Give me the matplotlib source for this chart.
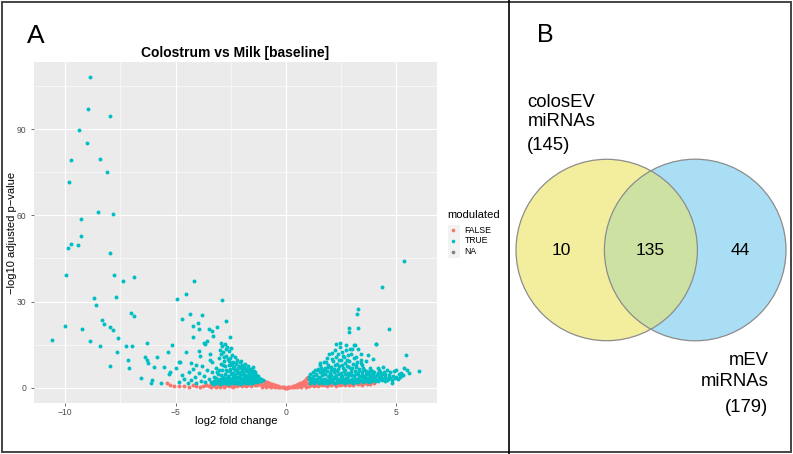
import matplotlib
matplotlib.use("Agg")
import matplotlib.pyplot as plt
from matplotlib.patches import Circle, Rectangle
from matplotlib.lines import Line2D

plt.rcParams["font.family"] = ["Liberation Sans", "DejaVu Sans"]

W, H = 793, 454

# ---- volcano data (log2 fold change, -log10 adjusted p-value) ----
false_x = [
    # centre V
    -1.20, -1.15, -1.10, -1.05, -1.00, -0.95, -0.90, -0.85, -0.80, -0.75, -0.70, -0.65,
    -0.60, -0.55, -0.50, -0.45, -0.40, -0.35, -0.30, -0.25, -0.20, -0.15, -0.10, -0.05,
    0.00, 0.05, 0.10, 0.15, 0.20, 0.25, 0.30, 0.35, 0.40, 0.45, 0.50, 0.55, 0.60, 0.65,
    0.70, 0.75, 0.80, 0.85, 0.90, 0.95, 1.00, 1.05,
    -1.18, -1.08, -0.98, -0.88, -0.78, -0.68, -0.58, -0.48, -0.38, 0.38, 0.48, 0.58,
    0.68, 0.78, 0.88, 0.98, -1.10, -0.90, -0.70, 0.70, 0.90, 1.02,
    # left band
    -5.40, -5.25, -5.05, -4.85, -4.60, -4.40, -4.20, -4.05, -3.90, -3.75, -3.62, -3.50,
    -3.38, -3.27, -3.16, -3.05, -2.95, -2.85, -2.75, -2.65, -2.55, -2.45, -2.35, -2.25,
    -2.15, -2.05, -1.95, -1.85, -1.75, -1.65, -1.55, -1.45, -1.35, -1.25,
    -3.40, -3.20, -3.00, -2.80, -2.60, -2.40, -2.20, -2.00, -1.80, -1.60, -1.40, -1.30,
    -3.60, -3.30, -3.10, -2.90, -2.70, -2.50, -2.30, -2.10, -1.90, -1.70, -1.50,
    # right band
    1.05, 1.15, 1.25, 1.35, 1.45, 1.55, 1.65, 1.75, 1.85, 1.95, 2.05, 2.15, 2.25, 2.35,
    2.45, 2.55, 2.65, 2.75, 2.85, 2.95, 3.05, 3.15, 3.25, 3.35, 3.45, 3.55, 3.65, 3.75,
    3.90, 4.00,
    1.10, 1.30, 1.50, 1.70, 1.90, 2.10, 2.30, 2.50, 2.70, 2.90, 3.10, 3.30, 3.50,
    1.20, 1.40, 1.60, 1.80, 2.00, 2.20, 2.40, 2.60, 2.80, 3.00, 3.20, 3.40, 3.60, 3.80,
]
false_y = [
    2.7, 2.6, 2.5, 2.4, 2.3, 2.1, 2.0, 1.9, 1.7, 1.6, 1.4, 1.3,
    1.1, 1.0, 0.9, 0.7, 0.6, 0.5, 0.4, 0.3, 0.2, 0.15, 0.1, 0.05,
    0.0, 0.05, 0.1, 0.15, 0.25, 0.35, 0.45, 0.55, 0.7, 0.85, 1.0, 1.15, 1.3, 1.5,
    1.7, 1.9, 2.2, 2.5, 2.9, 3.3, 3.8, 3.2,
    1.3, 1.1, 0.9, 1.0, 0.7, 0.6, 0.5, 0.3, 0.2, 0.2, 0.4, 0.5,
    0.7, 0.9, 1.2, 1.6, 0.3, 0.3, 0.2, 0.2, 0.3, 0.5,
    1.6, 1.0, 0.6, 0.5, 0.7, 0.4, 0.9, 0.5, 0.3, 0.7, 1.1, 0.5,
    1.2, 0.8, 0.4, 1.4, 0.9, 1.2, 0.6, 1.5, 1.0, 1.3, 0.7, 1.6,
    1.1, 0.8, 1.4, 1.7, 1.0, 1.5, 1.2, 1.8, 2.0, 1.6,
    0.3, 0.6, 0.4, 0.3, 0.5, 0.4, 0.6, 0.5, 0.6, 0.7, 0.9, 1.1,
    0.9, 1.0, 0.7, 1.6, 1.0, 0.7, 1.2, 1.3, 1.1, 1.3, 1.5,
    0.6, 0.9, 0.5, 1.0, 0.7, 1.2, 0.8, 1.1, 0.6, 1.3, 0.9, 1.2, 0.7, 1.4,
    1.0, 1.3, 0.8, 1.5, 1.1, 1.4, 1.0, 1.6, 1.2, 1.5, 1.1, 1.8, 1.3, 1.7,
    1.9, 1.6,
    1.8, 1.6, 1.9, 1.7, 2.0, 1.8, 2.1, 1.9, 2.2, 2.0, 2.3, 2.1, 2.2,
    1.3, 1.4, 1.2, 1.5, 1.4, 1.5, 1.6, 1.4, 1.7, 1.6, 1.8, 1.6, 2.0, 1.4,
]

true_x = [
    # left outliers
    -8.88, -8.96, -7.95, -9.35, -8.99, -9.73, -8.42, -8.11, -9.83, -8.52, -7.81, -9.29,
    -9.28, -9.71, -9.86, -9.40, -7.95, -9.94, -7.77, -7.39, -6.88, -8.69, -8.61, -7.69,
    -7.01, -6.88, -8.33, -8.22, -7.95, -7.84, -9.99, -9.24, -7.59, -8.85, -10.59, -8.40,
    -7.25, -6.98, -7.66, -7.15, -7.10, -7.96, -6.55, -6.28, -6.37, -6.29, -6.24, -5.85,
    -5.99, -6.08, -6.12, -5.67, -4.93, -4.51, -4.15, -2.90, -4.69, -4.34, -3.79, -2.70,
    -5.14, -5.35, -4.22, -3.98, -3.94, -4.19, -3.47, -3.12, -3.35, -2.52, -3.70, -3.56,
    -3.32, -4.52, -3.92, -4.80, -4.98, -5.51, -5.25, -5.31, -4.83, -4.30, -4.07, -3.89,
    -3.67, -3.44, -3.36, -2.95,
    # left cloud, middle
    -4.85, -4.70, -4.60, -4.45, -4.40, -4.30, -4.20, -4.10, -4.05, -3.95, -3.85, -3.80,
    -3.72, -3.65, -3.58, -3.50, -3.45, -3.40, -3.35, -3.28, -3.22, -3.18, -3.12, -3.08,
    -3.05, -3.02,
    -2.98, -2.95, -2.92, -2.88, -2.85, -2.82, -2.80, -2.78, -2.75, -2.72, -2.70, -2.68,
    -2.66, -2.63, -2.60, -2.58, -2.55, -2.52, -2.50, -2.48, -2.45, -2.42, -2.40, -2.36,
    -2.33, -2.30, -2.27, -2.22, -2.18, -2.14, -2.10, -2.05, -2.00, -1.95, -1.90, -1.85,
    -1.80, -1.74, -1.68, -1.62, -1.56, -1.50, -1.45, -1.38, -1.32, -1.25,
    # left cloud, base
    -3.30, -3.15, -3.00, -2.88, -2.76, -2.64, -2.52, -2.41, -2.30, -2.20, -2.10, -2.00,
    -1.91, -1.82, -1.73, -1.64, -1.55, -1.46, -1.37, -1.28, -1.20, -1.12, -1.05,
    -3.25, -3.08, -2.94, -2.82, -2.70, -2.58, -2.46, -2.35, -2.24, -2.14, -2.04, -1.95,
    -1.86, -1.77, -1.68, -1.59, -1.50, -1.41, -1.33, -1.24, -1.16,
    -3.15, -2.97, -2.84, -2.73, -2.61, -2.49, -2.38, -2.27, -2.17, -2.07, -1.98, -1.88,
    -1.79, -1.70, -1.61, -1.52, -1.43, -1.35, -1.27,
    -2.95, -2.78, -2.62, -2.47, -2.34, -2.21, -2.09, -1.97, -1.87, -1.76, -1.66, -1.57,
    -1.48, -1.40,
    -3.20, -3.05, -2.92, -2.80, -2.68, -2.56, -2.44, -2.32, -2.20, -2.08, -1.96, -1.84,
    -1.72, -1.60, -1.48, -1.36, -1.24, -1.14,
    -3.10, -2.90, -2.72, -2.55, -2.38, -2.24, -2.12, -2.00, -1.89, -1.78, -1.67, -1.56,
    -1.46, -1.36, -1.30,
    -2.86, -2.60, -2.44, -2.28, -2.16, -2.04, -1.92, -1.82, -1.70, -1.60,
    # right outliers
    5.34, 4.36, 3.27, 3.23, 2.84, 2.84, 3.24, 4.66, 4.07, 5.43, 6.02, 5.35,
    4.98, 4.78, 5.25, 3.70, 3.95, 3.39, 2.44, 2.26, 2.71, 3.09, 2.90, 3.27,
    # right cloud, upper
    1.45, 1.55, 1.62, 1.70, 1.78, 1.85, 1.90, 1.96, 2.02, 2.07, 2.12, 2.18,
    2.22, 2.26, 2.30, 2.35, 2.40, 2.45, 2.49, 2.53, 2.58, 2.62, 2.67, 2.72,
    2.76, 2.82, 2.86, 2.92, 2.97, 3.02, 3.07, 3.12, 3.17, 3.22, 3.30, 3.38,
    3.45, 3.55, 3.62, 3.80, 3.90, 4.06, 4.15, 4.25, 4.40, 4.55, 4.70, 4.90,
    5.10, 5.20, 5.48, 5.55,
    # right cloud, base
    1.02, 1.12, 1.22, 1.33, 1.44, 1.55, 1.66, 1.77, 1.88, 1.99, 2.10, 2.21,
    2.32, 2.43, 2.54, 2.65, 2.76, 2.87, 2.98, 3.09, 3.20, 3.31, 3.42, 3.53,
    3.64, 3.75, 3.86, 3.97, 4.10, 4.25, 4.40, 4.55, 4.70,
    1.05, 1.17, 1.29, 1.41, 1.53, 1.65, 1.77, 1.89, 2.01, 2.13, 2.25, 2.37,
    2.49, 2.61, 2.73, 2.85, 2.97, 3.09, 3.21, 3.33, 3.45, 3.57, 3.69, 3.81,
    3.93, 4.05, 4.20, 4.35, 4.50, 4.65, 4.85, 5.00,
    1.10, 1.24, 1.37, 1.50, 1.63, 1.76, 1.89, 2.02, 2.15, 2.28, 2.41, 2.54,
    2.67, 2.80, 2.93, 3.06, 3.19, 3.32, 3.45, 3.58, 3.71, 3.84, 3.97, 4.12,
    4.30, 4.48, 4.66,
    1.20, 1.35, 1.52, 1.68, 1.84, 2.00, 2.16, 2.32, 2.48, 2.64, 2.80, 2.96,
    3.12, 3.28, 3.44, 3.60, 3.76, 3.95, 4.15, 4.35,
    1.08, 1.18, 1.28, 1.38, 1.48, 1.58, 1.70, 1.82, 1.94, 2.06, 2.18, 2.30,
    2.42, 2.54, 2.66, 2.78, 2.90, 3.02, 3.14, 3.26, 3.38, 3.50, 3.62, 3.74,
    3.88, 4.02, 4.18, 4.34, 4.50, 4.62, 4.78, 4.92, 5.05, 5.15, 5.30,
    1.30, 1.45, 1.60, 1.74, 1.88, 2.04, 2.20, 2.36, 2.52, 2.68, 2.84, 3.00,
    3.16, 3.32, 3.48, 3.64, 3.82, 4.00, 4.22, 4.45,
    1.52, 1.80, 2.10, 2.38, 2.56, 2.74, 2.94, 3.15, 3.40,
]
true_y = [
    108.1, 97.0, 94.6, 89.8, 85.3, 79.2, 79.7, 75.1, 71.6, 61.2, 60.5, 58.6,
    52.9, 50.2, 48.5, 49.6, 46.9, 39.1, 39.1, 37.1, 38.7, 31.1, 28.9, 31.5,
    26.1, 24.9, 23.6, 22.3, 21.0, 20.1, 21.5, 20.4, 17.3, 16.3, 16.7, 14.4,
    14.6, 14.6, 12.3, 9.5, 6.7, 7.7, 3.4, 15.5, 10.7, 9.5, 8.5, 10.6,
    7.2, 2.8, 1.7, 1.7, 31.0, 32.7, 37.3, 30.5, 23.8, 25.7, 25.2, 23.1,
    14.8, 12.3, 21.5, 22.6, 20.4, 17.5, 20.6, 21.3, 19.6, 17.5, 15.7, 16.3,
    18.0, 12.5, 12.8, 8.8, 7.0, 7.3, 5.6, 4.7, 8.8, 8.5, 7.9, 11.0,
    15.2, 11.7, 8.8, 15.5,
    2.0, 4.5, 3.1, 1.8, 5.6, 2.6, 6.5, 3.8, 1.6, 5.0, 2.3, 7.4,
    4.1, 1.9, 6.0, 3.2, 9.6, 2.1, 5.3, 3.9, 1.5, 7.0, 2.7, 4.6,
    10.2, 6.1,
    13.0, 11.8, 8.4, 14.6, 12.4, 10.6, 9.3, 15.1, 7.5, 13.6, 11.2, 5.8,
    14.2, 9.9, 12.8, 7.9, 10.4, 6.6, 13.9, 8.7, 11.5, 5.2, 9.1, 7.2,
    10.8, 6.1, 8.3, 9.6, 5.6, 7.6, 8.9, 6.7, 7.9, 5.1, 6.4, 8.2,
    5.7, 6.9, 4.9, 6.0, 5.3, 7.1, 4.6, 5.5, 4.2, 3.7,
    1.4, 1.6, 1.3, 1.7, 1.5, 1.4, 1.8, 1.6, 1.5, 1.7, 1.4, 1.6,
    1.9, 1.5, 1.7, 1.6, 1.8, 1.9, 2.0, 2.2, 2.3, 2.5, 2.7,
    2.4, 2.1, 2.8, 2.3, 2.6, 2.2, 2.9, 2.5, 2.7, 2.3, 2.9, 2.6,
    2.4, 2.8, 2.5, 2.7, 2.9, 2.6, 3.0, 3.1, 3.2,
    3.5, 3.2, 3.9, 3.4, 3.7, 3.1, 3.8, 3.3, 3.6, 3.9, 3.2, 3.7,
    3.4, 3.9, 3.5, 3.3, 3.8, 3.6, 4.0,
    4.4, 4.9, 4.2, 4.7, 4.4, 5.0, 4.3, 4.8, 4.5, 4.1, 4.6, 4.3,
    5.0, 4.8,
    1.9, 2.6, 1.8, 3.1, 2.0, 3.4, 2.2, 4.0, 1.9, 3.5, 2.1, 3.0,
    2.3, 3.3, 2.4, 2.8, 2.6, 3.0,
    5.5, 6.0, 6.3, 5.7, 6.8, 6.0, 5.4, 5.9, 6.9, 6.2, 5.2, 4.8,
    5.8, 4.5, 3.4,
    8.0, 9.4, 7.8, 8.6, 7.0, 9.2, 7.3, 6.4, 7.4, 6.6,
    44.2, 35.1, 27.5, 25.6, 20.8, 19.3, 20.7, 20.3, 15.3, 11.3, 5.9, 6.7,
    6.2, 1.7, 4.3, 11.3, 9.9, 8.7, 15.7, 15.1, 14.8, 14.8, 13.6, 13.5,
    6.2, 7.8, 5.9, 9.1, 6.8, 10.5, 8.0, 11.8, 7.1, 12.0, 9.4, 6.5,
    13.2, 10.6, 8.2, 11.9, 7.4, 14.3, 9.8, 12.6, 6.9, 10.8, 8.6, 13.0,
    7.6, 11.4, 9.2, 6.4, 13.4, 8.4, 10.2, 14.9, 7.2, 9.0, 6.6, 11.6,
    7.9, 6.1, 9.4, 7.0, 5.8, 15.2, 6.9, 5.6, 7.2, 6.0, 5.3, 5.9,
    4.6, 5.2, 6.3, 5.0,
    3.0, 2.7, 2.5, 2.2, 2.0, 1.9, 1.8, 2.1, 1.7, 1.9, 2.2, 1.8,
    2.0, 2.3, 1.9, 2.1, 2.4, 2.0, 2.2, 2.5, 2.1, 2.3, 2.6, 2.4,
    2.2, 2.7, 2.5, 2.8, 2.6, 2.9, 3.1, 2.8, 3.3,
    3.8, 3.4, 3.1, 2.9, 3.3, 2.8, 3.2, 2.7, 3.5, 3.0, 3.3, 2.9,
    3.6, 3.1, 3.4, 2.8, 3.2, 3.5, 3.0, 3.3, 3.6, 3.1, 3.4, 3.7,
    3.2, 3.5, 3.8, 3.4, 3.9, 3.6, 4.1, 3.8,
    4.6, 4.0, 4.4, 3.9, 4.3, 4.7, 4.1, 4.5, 3.9, 4.4, 4.8, 4.2,
    4.6, 4.0, 4.5, 4.3, 4.7, 4.1, 4.4, 4.0, 4.6, 4.3, 4.2, 4.5,
    4.4, 4.7, 4.3,
    5.3, 4.9, 5.6, 5.1, 5.8, 5.0, 5.5, 5.9, 5.2, 5.7, 5.0, 5.4,
    5.8, 5.1, 5.5, 4.9, 5.3, 5.0, 5.2, 4.9,
    1.6, 2.2, 1.8, 2.6, 1.5, 2.4, 2.9, 1.6, 2.5, 2.8, 1.5, 2.6,
    2.1, 3.0, 1.7, 2.9, 2.5, 1.8, 2.9, 1.9, 3.0, 2.1, 2.9, 2.0,
    3.1, 2.3, 2.2, 2.6, 2.4, 3.0, 2.8, 3.4, 3.2, 3.9, 4.4,
    6.0, 6.6, 7.0, 6.3, 7.3, 6.2, 7.8, 6.6, 8.0, 6.3, 7.3, 6.8,
    8.0, 6.2, 6.8, 5.8, 6.1, 5.6, 6.0, 5.5,
    8.6, 8.9, 10.0, 9.6, 11.2, 9.8, 11.8, 10.6, 9.6,
]

legend_labels = ["FALSE", "TRUE", "NA"]
legend_colors = ["#F8766D", "#00BFC4", "#7F7F7F"]

x_ticks = [-10, -5, 0, 5]
x_ticklabels = ["\u221210", "\u22125", "0", "5"]
y_ticks = [0, 30, 60, 90]

# ---- Venn data ----
venn_counts = [10, 135, 44]
set_a_label = ["colosEV", "miRNAs", "(145)"]
set_b_label = ["mEV", "miRNAs", "(179)"]


def fy(p):
    return 1 - p / H


fig = plt.figure(figsize=(W / 100, H / 100), dpi=100)
fig.patch.set_facecolor("white")

# ---------------- panel A ----------------
ax = fig.add_axes([34.3 / W, fy(402.7), 402.4 / W, 340.4 / H])
ax.set_facecolor("#EBEBEB")
ax.scatter(false_x, false_y, s=8, color="#F8766D", linewidths=0, zorder=3)
ax.scatter(true_x, true_y, s=8, color="#00BFC4", linewidths=0, zorder=4)
ax.set_xlim(-11.39, 6.82)
ax.set_ylim(-5.22, 113.3)
ax.set_xticks(x_ticks)
ax.set_xticklabels(x_ticklabels)
ax.set_yticks(y_ticks)
ax.set_xticks([-7.5, -2.5, 2.5], minor=True)
ax.set_yticks([15, 45, 75, 105], minor=True)
ax.grid(True, which="major", color="white", linewidth=0.8)
ax.grid(True, which="minor", color="white", linewidth=0.4)
ax.set_axisbelow(True)
for s in ax.spines.values():
    s.set_visible(False)
ax.tick_params(which="major", length=2.0, width=0.5, color="#333333",
               labelsize=6.2, labelcolor="#4D4D4D")
ax.tick_params(axis="x", pad=1.8)
ax.tick_params(axis="y", pad=3.5)
ax.tick_params(which="minor", length=0)

fig.text(235.5 / W, fy(56.5), "Colostrum vs Milk [baseline]", ha="center",
         va="baseline", fontsize=10, fontweight="bold")
fig.text(236 / W, fy(424), "log2 fold change", ha="center", va="baseline", fontsize=8)
fig.text(12 / W, fy(232.5), "\u2212log10 adjusted p\u2212value", ha="center",
         va="center", rotation=90, fontsize=8)
fig.text(26.5 / W, fy(43.3), "A", ha="left", va="baseline", fontsize=19)

# legend
fig.text(447.7 / W, fy(218.5), "modulated", ha="left", va="baseline", fontsize=8.1)
fig.add_artist(Rectangle((447.5 / W, fy(258)), 12 / W, 33.5 / H,
                         transform=fig.transFigure, facecolor="#F2F2F2",
                         edgecolor="none"))
for i, (lab, col) in enumerate(zip(legend_labels, legend_colors)):
    yy = [230, 240.9, 251.8][i]
    fig.add_artist(Line2D([453.4 / W], [fy(yy)], marker="o", markersize=2.6,
                          markeredgewidth=0, color=col, transform=fig.transFigure))
    fig.text(464.3 / W, fy(yy), lab, ha="left", va="center", fontsize=6.2)

# ---------------- panel B ----------------
axv = fig.add_axes([510 / W, 0, 283 / W, 1])
axv.set_xlim(510, 793)
axv.set_ylim(454, 0)
axv.axis("off")
ca = Circle((606.7, 250), 90.7, facecolor="#F3EE9E", edgecolor="none", zorder=1)
cb = Circle((695.2, 250), 90.8, facecolor="#A9DEF5", edgecolor="none", zorder=1)
axv.add_patch(ca)
axv.add_patch(cb)
inter = Circle((606.7, 250), 90.7, facecolor="#CDE2A2", edgecolor="none", zorder=2)
axv.add_patch(inter)
inter.set_clip_path(Circle((695.2, 250), 90.8, transform=axv.transData))
for c in [(606.7, 250, 90.7), (695.2, 250, 90.8)]:
    axv.add_patch(Circle(c[:2], c[2], facecolor="none", edgecolor="#8C8C8C",
                         linewidth=0.9, zorder=3))

for xc, n in zip([561.3, 650.5, 740.7], venn_counts):
    axv.text(xc, 255, str(n), ha="center", va="baseline", fontsize=12.5, zorder=5)
for yb, t in zip([106.7, 125.5, 150.5], set_a_label):
    axv.text(527.3, yb, t, ha="left", va="baseline", fontsize=13.3)
for yb, t in zip([365, 385.5, 411.5], set_b_label):
    axv.text(768.5, yb, t, ha="right", va="baseline", fontsize=13.3)
axv.text(537, 42.3, "B", ha="left", va="baseline", fontsize=18)

# frame and divider
fig.add_artist(Rectangle((1.8 / W, 1.8 / H), (W - 3.6) / W, (H - 3.6) / H,
                         transform=fig.transFigure, facecolor="none",
                         edgecolor="#444444", linewidth=1.4))
fig.add_artist(Line2D([509 / W, 509 / W], [0, 1], color="black", linewidth=1.2,
                      transform=fig.transFigure))

fig.savefig("out.png", dpi=100)
